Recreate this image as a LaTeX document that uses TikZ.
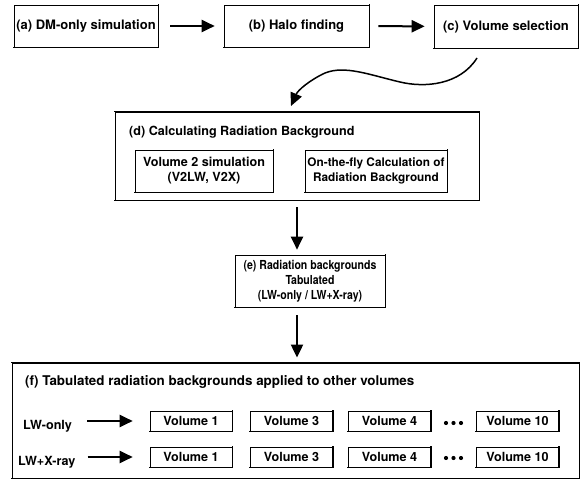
\documentclass[tikz,border=0pt]{standalone}
\usepackage{fontspec}
\setmainfont{TeX Gyre Heros}
\newfontfamily\condfont[FakeStretch=0.85, BoldFeatures={FakeStretch=0.85}]{TeX Gyre Heros}
\usetikzlibrary{arrows.meta}
\begin{document}
\begin{tikzpicture}[x=1pt,y=-1pt,
  every node/.style={font=\bfseries\fontsize{12.6}{15}\selectfont, inner sep=0pt},
  box/.style={draw, line width=0.6pt, align=center,
    append after command={\pgfextra{\draw[line width=1.5pt, line cap=rect] (\tikzlastnode.south west) -- (\tikzlastnode.south east) -- (\tikzlastnode.north east);}}},
  bigbox/.style={draw, line width=0.8pt,
    append after command={\pgfextra{\draw[line width=1.5pt, line cap=rect] (\tikzlastnode.north west) -- (\tikzlastnode.north east) -- (\tikzlastnode.south east) -- (\tikzlastnode.south west);}}},
  arr/.style={line width=2pt, -{Triangle[length=13pt,width=12pt]}},
  vol/.style={box, minimum width=82pt, minimum height=20pt},
  lbl/.style={anchor=base west},
  dot/.style={circle, fill, minimum size=4.2pt, inner sep=0pt},
]
\useasboundingbox (0,0) rectangle (587,481);

% top row
\node[box, minimum width=144pt, minimum height=42pt, font=\bfseries\fontsize{13}{15}\selectfont] (a) at (86,26) {(a) DM-only simulation};
\node[box, minimum width=145pt, minimum height=42pt, font=\bfseries\fontsize{13}{15}\selectfont] (b) at (296.5,26) {(b) Halo finding};
\node[box, minimum width=144pt, minimum height=43pt, font=\bfseries\fontsize{13}{15}\selectfont] (c) at (506,26.5) {(c) Volume selection};
\draw[arr, shorten <=12pt, shorten >=9pt] (a) -- (b);
\draw[arr, shorten <=9pt, shorten >=9pt] (b) -- (c);

% (d)
\node[bigbox, minimum width=364pt, minimum height=88pt] (d) at (297,156) {};
\node[anchor=west] (dt) at (129,132) {(d) Calculating Radiation Background};
\node[box, minimum width=138pt, minimum height=42pt] (d1) at (204,171) {Volume 2 simulation\\(V2LW, V2X)};
\node[box, minimum width=142pt, minimum height=42pt, font=\bfseries\fontsize{11.8}{15}\selectfont] (d2) at (376,171) {On-the-fly Calculation of\\Radiation Background};

% curved arrow
\coordinate (cs) at (477,58);
\coordinate (ce) at (291,106);
\draw[line width=1.5pt, -{Triangle[length=13pt,width=12pt]}] (cs) .. controls (460,85) and (425,88) .. (400,82) .. controls (370,75) and (345,65) .. (325,73) .. controls (310,80) and (298,90) .. (ce);

% (e)
\node[box, minimum width=150pt, minimum height=52pt, font=\condfont\bfseries\fontsize{12.4}{15}\selectfont] (e) at (310,281) {(e) Radiation backgrounds\\Tabulated\\(LW-only / LW+X-ray)};
\draw[arr, shorten <=7pt, shorten >=5pt] (d.south) -- (d.south |- e.north);

% (f)
\node[bigbox, minimum width=567pt, minimum height=115pt] (f) at (295.5,420.5) {};
\draw[arr, shorten <=8pt, shorten >=5pt] (d.south |- e.south) -- (d.south |- f.north);
\node[anchor=west, font=\bfseries\fontsize{13.4}{15}\selectfont] (ft) at (25,382) {(f) Tabulated radiation backgrounds applied to other volumes};

\node[lbl] (lw1) at (23,429) {LW-only};
\node[lbl] (lw2) at (18,465) {LW+X-ray};

\node[vol] (v11) at (191,421) {Volume 1};
\node[vol] (v13) at (291.5,421) {Volume 3};
\node[vol] (v14) at (389.5,421) {Volume 4};
\node[dot] (d11) at (446,423) {};
\node[dot] (d12) at (453.5,423) {};
\node[dot] (d13) at (461,423) {};
\node[vol] (v110) at (517.5,421) {Volume 10};

\node[vol] (v21) at (191,457) {Volume 1};
\node[vol] (v23) at (291.5,457) {Volume 3};
\node[vol] (v24) at (389.5,457) {Volume 4};
\node[dot] (d21) at (446,458) {};
\node[dot] (d22) at (453.5,458) {};
\node[dot] (d23) at (461,458) {};
\node[vol] (v210) at (517.5,457) {Volume 10};

\draw[arr, shorten <=15pt, shorten >=17pt] (lw1.east |- v11.west) -- (v11.west);
\draw[arr, shorten <=12pt, shorten >=17pt] (lw2.east |- v21.west) -- (v21.west);
\end{tikzpicture}
\end{document}
